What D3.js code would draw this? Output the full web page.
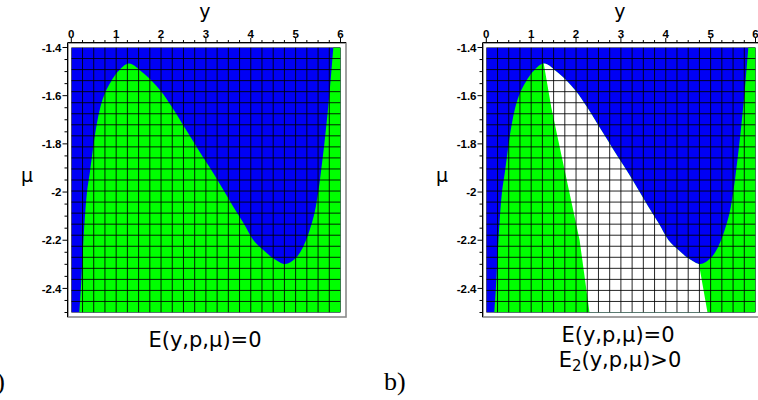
<!DOCTYPE html>
<html lang="en">
  <head>
    <meta charset="UTF-8" />
    <title>E(y,p,mu) regions</title>
    <style>
      body {
        margin: 0;
        background: #fff;
      }
      svg {
        display: block;
      }
      .tick-label {
        font-family: "Liberation Sans", Arial, sans-serif;
        font-weight: bold;
        font-size: 11.5px;
      }
      .axis-title {
        font-family: "DejaVu Sans", sans-serif;
        font-size: 19px;
      }
      .caption {
        font-family: "DejaVu Sans", sans-serif;
        font-size: 21px;
      }
      .panel-tag {
        font-family: "Liberation Serif", serif;
        font-size: 26px;
      }
    </style>
  </head>
  <body>
    <div id="chart"></div>

    <script src="https://d3js.org/d3.v7.min.js"></script>
    <script>
      // axis ticks
      const yTicks = [0, 1, 2, 3, 4, 5, 6];
      const muTicks = [-1.4, -1.6, -1.8, -2, -2.2, -2.4];
      const muTickLabels = ["-1.4", "-1.6", "-1.8", "-2", "-2.2", "-2.4"];

      // boundary of E(y,p,mu)=0 region (green lies below it)
      const boundaryY = [
        0.18, 0.22, 0.27, 0.35, 0.41, 0.46, 0.51, 0.57, 0.65, 0.76, 0.89,
        1.04, 1.28, 1.61, 1.98, 2.24, 2.47, 2.7, 2.93, 3.17, 3.39, 3.61, 3.84,
        4.06, 4.28, 4.51, 4.77, 4.99, 5.17, 5.36, 5.45, 5.51, 5.56, 5.64, 5.75,
        5.84, 5.93, 6.02,
      ];
      const boundaryMu = [
        -2.5, -2.38, -2.2, -2.0, -1.923, -1.854, -1.784, -1.715, -1.646,
        -1.585, -1.54, -1.5, -1.466, -1.507, -1.577, -1.646, -1.715, -1.784,
        -1.854, -1.923, -1.992, -2.061, -2.13, -2.2, -2.241, -2.276, -2.299,
        -2.276, -2.227, -2.13, -2.061, -1.992, -1.923, -1.8, -1.6, -1.4, -1.2,
        -1.0,
      ];

      // split lines of the E2>0 part (panel b)
      const splitLeftY = [1.22, 1.28, 1.45, 1.62, 1.85, 2.08, 2.3];
      const splitLeftMu = [-1.4, -1.466, -1.65, -1.8, -2.0, -2.2, -2.5];
      const splitRightY = [4.93, 4.74, 4.74];
      const splitRightMu = [-2.5, -2.3, -1.4];

      const blue = "#0000f5";
      const green = "#00ff00";

      const width = 758,
        height = 400;

      const svg = d3
        .select("#chart")
        .append("svg")
        .attr("width", width)
        .attr("height", height);

      const x = d3.scaleLinear().domain([0, 6]).range([71.3, 340.5]);
      const y = d3.scaleLinear().domain([-1.4, -2.5]).range([47.5, 312.5]);

      const boundary = boundaryY.map((v, i) => [v, boundaryMu[i]]);
      const area = d3
        .area()
        .x((d) => x(d[0]))
        .y0(y(-2.5))
        .y1((d) => y(d[1]))
        .curve(d3.curveCatmullRom.alpha(0.5));

      const whitePts = splitLeftY
        .map((v, i) => [v, splitLeftMu[i]])
        .concat(splitRightY.map((v, i) => [v, splitRightMu[i]]));
      const line = d3
        .line()
        .x((d) => x(d[0]))
        .y((d) => y(d[1]));

      function drawPanel(dx, id, withWhite) {
        const g = svg.append("g").attr("transform", `translate(${dx},0)`);
        const defs = g.append("defs");

        defs
          .append("clipPath")
          .attr("id", "plot-" + id)
          .append("rect")
          .attr("x", x(0))
          .attr("y", y(-1.4))
          .attr("width", x(6) - x(0))
          .attr("height", y(-2.5) - y(-1.4));

        defs
          .append("clipPath")
          .attr("id", "green-" + id)
          .append("path")
          .attr("d", area(boundary));

        // frame
        g.append("rect")
          .attr("x", 68)
          .attr("y", 43)
          .attr("width", 278)
          .attr("height", 274)
          .attr("fill", "none")
          .attr("stroke", "#8a8a8a")
          .attr("stroke-width", 1.6);
        g.append("line")
          .attr("x1", 68)
          .attr("x2", 346)
          .attr("y1", 42.5)
          .attr("y2", 42.5)
          .attr("stroke", "#000");
        g.append("line")
          .attr("x1", 67.5)
          .attr("x2", 67.5)
          .attr("y1", 42.5)
          .attr("y2", 317)
          .attr("stroke", "#000");

        const plot = g.append("g").attr("clip-path", `url(#plot-${id})`);

        plot
          .append("rect")
          .attr("x", x(0))
          .attr("y", y(-1.4))
          .attr("width", x(6) - x(0))
          .attr("height", y(-2.5) - y(-1.4))
          .attr("fill", blue);

        plot.append("path").attr("d", area(boundary)).attr("fill", green);

        if (withWhite) {
          plot
            .append("g")
            .attr("clip-path", `url(#green-${id})`)
            .append("path")
            .attr("d", line(whitePts) + "Z")
            .attr("fill", "#fff");
        }

        // grid 25 x 25
        const cols = d3.range(25).map((i) => (i * 6) / 24);
        const rows = d3.range(25).map((i) => -1.4 - (i * 1.1) / 24);
        plot
          .selectAll(".vgrid")
          .data(cols)
          .enter()
          .append("line")
          .attr("x1", (d) => x(d))
          .attr("x2", (d) => x(d))
          .attr("y1", y(-1.4))
          .attr("y2", y(-2.5))
          .attr("stroke", "#000")
          .attr("stroke-opacity", 0.85);
        plot
          .selectAll(".hgrid")
          .data(rows)
          .enter()
          .append("line")
          .attr("x1", x(0))
          .attr("x2", x(6))
          .attr("y1", (d) => y(d))
          .attr("y2", (d) => y(d))
          .attr("stroke", "#000")
          .attr("stroke-opacity", 0.85);

        // top ticks
        const minorY = d3.range(25).map((i) => i * 0.25);
        g.selectAll(".tx")
          .data(minorY)
          .enter()
          .append("line")
          .attr("x1", (d) => x(d))
          .attr("x2", (d) => x(d))
          .attr("y1", 42.5)
          .attr("y2", (d, i) => (i % 4 === 0 ? 38 : 40))
          .attr("stroke", "#000");
        g.selectAll(".txl")
          .data(yTicks)
          .enter()
          .append("text")
          .attr("class", "tick-label")
          .attr("x", (d) => x(d))
          .attr("y", 38)
          .attr("text-anchor", "middle")
          .text((d) => d);

        // left ticks
        const minorMu = d3.range(23).map((i) => -1.4 - i * 0.05);
        g.selectAll(".tm")
          .data(minorMu)
          .enter()
          .append("line")
          .attr("x1", 67.5)
          .attr("x2", (d, i) => (i % 4 === 0 ? 62.5 : 64.5))
          .attr("y1", (d) => y(d))
          .attr("y2", (d) => y(d))
          .attr("stroke", "#000");
        g.selectAll(".tml")
          .data(muTicks)
          .enter()
          .append("text")
          .attr("class", "tick-label")
          .attr("x", 61.5)
          .attr("y", (d) => y(d))
          .attr("dy", "0.36em")
          .attr("text-anchor", "end")
          .text((d, i) => muTickLabels[i]);

        g.append("text")
          .attr("class", "axis-title")
          .attr("x", x(3) - 1)
          .attr("y", 18)
          .attr("text-anchor", "middle")
          .text("y");
        g.append("text")
          .attr("class", "axis-title")
          .attr("x", 21)
          .attr("y", 182)
          .text("μ");
        return g;
      }

      const ga = drawPanel(0, "a", false);
      ga.append("text")
        .attr("class", "caption")
        .attr("x", 205)
        .attr("y", 347)
        .attr("text-anchor", "middle")
        .text("E(y,p,μ)=0");

      const gb = drawPanel(415, "b", true);
      gb.append("text")
        .attr("class", "caption")
        .attr("x", 203)
        .attr("y", 342)
        .attr("text-anchor", "middle")
        .text("E(y,p,μ)=0");
      const e2 = gb
        .append("text")
        .attr("class", "caption")
        .attr("x", 205)
        .attr("y", 367)
        .attr("text-anchor", "middle");
      e2.append("tspan").text("E");
      e2.append("tspan")
        .attr("font-size", "15px")
        .attr("dy", 4)
        .text("2");
      e2.append("tspan").attr("dy", -4).text("(y,p,μ)>0");

      svg
        .append("text")
        .attr("class", "panel-tag")
        .attr("x", 5)
        .attr("y", 390)
        .attr("text-anchor", "end")
        .text("a)");
      svg
        .append("text")
        .attr("class", "panel-tag")
        .attr("x", 384)
        .attr("y", 390)
        .text("b)");
    </script>
  </body>
</html>
